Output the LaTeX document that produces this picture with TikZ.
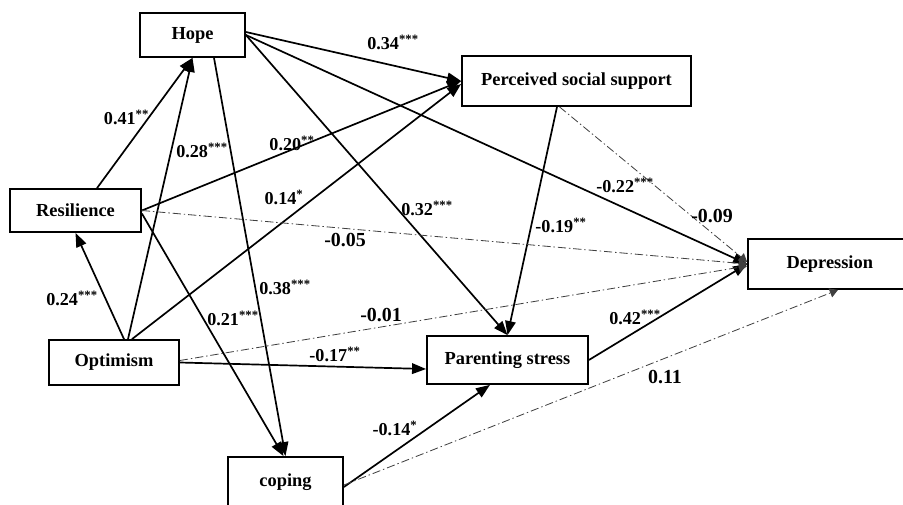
\documentclass[tikz,border=0pt]{standalone}
\usepackage{fontspec}
\setmainfont{Liberation Serif}
\usetikzlibrary{arrows.meta}

\begin{document}
\begin{tikzpicture}[x=0.03cm, y=-0.03cm,
    box/.style={draw, line width=1.5pt, inner sep=0pt, font=\fontsize{15.7}{18}\selectfont\bfseries},
    effect/.style={-{Triangle[length=12pt,width=9pt]}, line width=1.45pt},
    nseffect/.style={-{Triangle[length=7pt,width=8pt]}, line width=0.7pt, black!75,
        dash pattern=on 7pt off 2.5pt on 1.2pt off 2.5pt},
    coef/.style={font=\fontsize{15.5}{18}\selectfont\bfseries, inner sep=0pt},
    nscoef/.style={font=\fontsize{17}{20}\selectfont\bfseries, inner sep=0pt}]

    \useasboundingbox (0,0) rectangle (903,504);

    % Boxes
    \node[box, minimum width=3.15cm, minimum height=1.32cm] (hope) at (192.5,35) {Hope};
    \node[box, minimum width=3.93cm, minimum height=1.29cm] (res) at (75.5,210.5) {Resilience};
    \node[box, minimum width=3.9cm, minimum height=1.35cm] (opt) at (114,362.5) {Optimism};
    \node[box, minimum width=3.45cm, minimum height=1.8cm, text height=11pt, text depth=12pt]
        (coping) at (285.5,487) {coping};
    \node[box, minimum width=6.87cm, minimum height=1.5cm] (pss) at (576.5,81) {Perceived social support};
    \node[box, minimum width=4.83cm, minimum height=1.44cm] (ps) at (507.5,360) {Parenting stress};
    % Depression runs off the right edge
    \node[box, minimum height=1.5cm, inner xsep=1.155cm, text width=3.6cm, align=left]
        (dep) at (846.5,264) {Depression};

    % Significant paths
    \draw[effect] ([shift={(21.5,0)}]res.north) -- (hope.south);
    \draw[effect] ([shift={(14,0)}]opt.north) -- (hope.south);
    \draw[effect] ([shift={(10,0)}]opt.north) -- (res.south);
    \draw[effect] ([shift={(21.5,0)}]hope.south) -- (coping.north);
    \draw[effect] ([shift={(0,3)}]res.east) -- ([shift={(-2,0)}]coping.north);
    \draw[effect] ([shift={(0,-3)}]hope.east) -- (pss.west);
    \draw[effect] (res.east) -- (pss.west);
    \draw[effect] ([shift={(18,0)}]opt.north) -- ([shift={(0,3)}]pss.west);
    \draw[effect] (hope.east) -- (ps.north);
    \draw[effect] (hope.east) -- (dep.west);
    \draw[effect] ([shift={(-19.5,0)}]pss.south) -- (ps.north);
    \draw[effect] (opt.east) -- ([shift={(0,9)}]ps.west);
    \draw[effect] (coping.east) -- ([shift={(-17.5,0)}]ps.south);
    \draw[effect] (ps.east) -- (dep.west);

    % Non-significant paths
    \draw[nseffect] ([shift={(-17,0)}]pss.south) -- ([shift={(0,-2)}]dep.west);
    \draw[nseffect] (res.east) -- (dep.west);
    \draw[nseffect] ([shift={(0,-2)}]opt.east) -- ([shift={(0,2)}]dep.west);
    \draw[nseffect] ([shift={(0,-2)}]coping.east) -- ([shift={(-8.5,0)}]dep.south);

    % Coefficients
    \node[coef] (cResHope) at (126.5,117) {0.41\textsuperscript{**}};
    \node[coef] (cOptHope) at (202,150) {0.28\textsuperscript{***}};
    \node[coef] (cResPss) at (292,143) {0.20\textsuperscript{**}};
    \node[coef] (cOptPss) at (284,197) {0.14\textsuperscript{*}};
    \node[coef] (cHopePss) at (393,42) {0.34\textsuperscript{***}};
    \node[coef] (cHopePs) at (427,208) {0.32\textsuperscript{***}};
    \node[coef] (cHopeDep) at (625,185) {-0.22\textsuperscript{***}};
    \node[coef] (cPssPs) at (561,225) {-0.19\textsuperscript{**}};
    \node[coef] (cOptRes) at (72,298) {0.24\textsuperscript{***}};
    \node[coef] (cResCop) at (233,318) {0.21\textsuperscript{***}};
    \node[coef] (cHopeCop) at (285,287) {0.38\textsuperscript{***}};
    \node[coef] (cOptPs) at (335,354) {-0.17\textsuperscript{**}};
    \node[coef] (cCopPs) at (395,428) {-0.14\textsuperscript{*}};
    \node[coef] (cPsDep) at (635,317) {0.42\textsuperscript{***}};
    \node[nscoef] (cResDep) at (345,240) {-0.05};
    \node[nscoef] (cOptDep) at (381,315) {-0.01};
    \node[nscoef] (cPssDep) at (712,216) {-0.09};
    \node[nscoef] (cCopDep) at (665,377) {0.11};
\end{tikzpicture}
\end{document}
